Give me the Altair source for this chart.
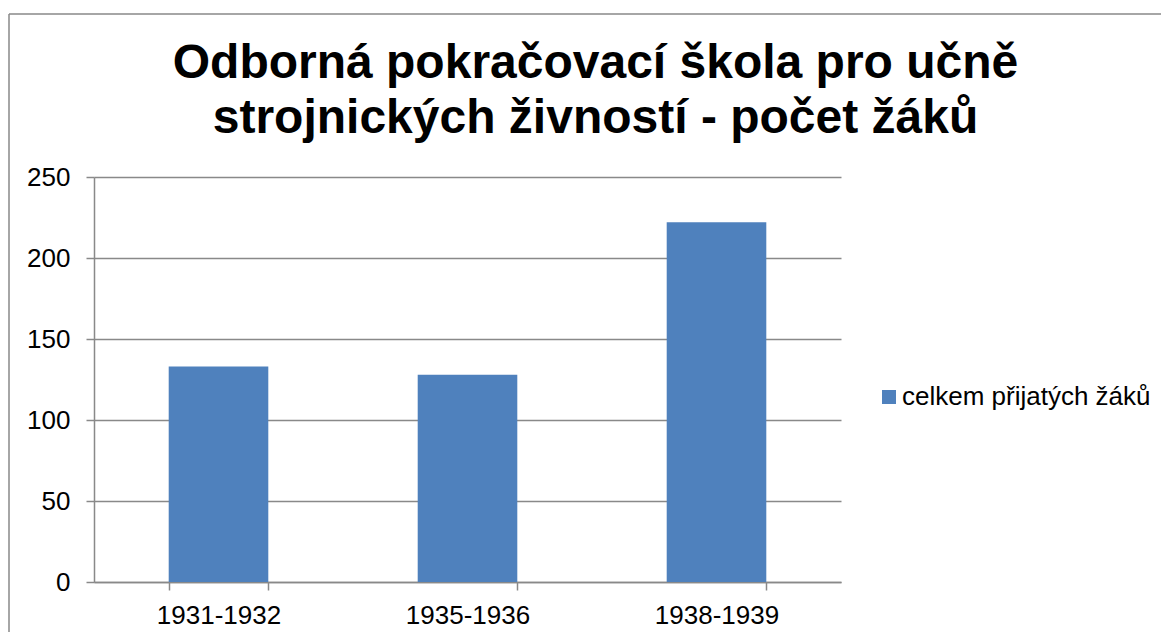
import altair as alt
import pandas as pd

# ---- data ----
years = ["1931-1932", "1935-1936", "1938-1939"]
counts = [133, 128, 222]
series_name = "celkem přijatých žáků"
title_lines = ["Odborná pokračovací škola pro učně", "strojnických živností - počet žáků"]
y_ticks = [0, 50, 100, 150, 200, 250]

df = pd.DataFrame({"rok": years, "pocet": counts, "serie": [series_name] * len(years)})

FONT = "Liberation Sans"
GRAY = "#898989"
BLUE = "#4F81BD"

bars = alt.Chart(df).mark_bar(color=BLUE).encode(
    x=alt.X(
        "rok:N",
        sort=years,
        scale=alt.Scale(paddingInner=0.6, paddingOuter=0.3),
        axis=alt.Axis(
            title=None,
            labelAngle=0,
            tickBand="extent",
            tickSize=8,
            tickColor=GRAY,
            tickWidth=1.5,
            domainColor=GRAY,
            domainWidth=1.5,
            labelFont=FONT,
            labelFontSize=26,
            labelColor="black",
            labelPadding=12,
            grid=False,
        ),
    ),
    y=alt.Y(
        "pocet:Q",
        scale=alt.Scale(domain=[0, 250], nice=False),
        axis=alt.Axis(
            title=None,
            values=y_ticks,
            tickSize=8,
            tickColor=GRAY,
            tickWidth=1.5,
            domainColor=GRAY,
            domainWidth=1.5,
            gridColor=GRAY,
            gridWidth=1.5,
            labelFont=FONT,
            labelFontSize=26,
            labelColor="black",
            labelPadding=16,
        ),
    ),
    color=alt.Color(
        "serie:N",
        scale=alt.Scale(range=[BLUE]),
        legend=alt.Legend(
            title=None,
            orient="none",
            legendX=782,
            legendY=207,
            symbolType="square",
            symbolSize=196,
            symbolStrokeWidth=0,
            symbolOpacity=1,
            labelFont=FONT,
            labelFontSize=26,
            labelColor="black",
            labelOffset=0,
            labelLimit=500,
            padding=0,
        ),
    ),
)

# outer chart frame (top and left edges; the others fall outside the picture)
frame_top = alt.Chart(pd.DataFrame({"k": [0]})).mark_rule(
    color=GRAY, strokeWidth=1.5
).encode(x=alt.value(-85), x2=alt.value(1200), y=alt.value(-163))
frame_left = alt.Chart(pd.DataFrame({"k": [0]})).mark_rule(
    color=GRAY, strokeWidth=1.5
).encode(x=alt.value(-85), y=alt.value(-163), y2=alt.value(480))

chart = alt.layer(frame_top, frame_left, bars).properties(
    width=747,
    height=405,
    autosize=alt.AutoSizeParams(type="none"),
    padding={"left": 86, "top": 169, "right": 320, "bottom": 50},
    title=alt.TitleParams(
        text=title_lines,
        font=FONT,
        fontSize=48,
        fontWeight="bold",
        color="black",
        anchor="middle",
        dx=128,
        dy=130,
        lineHeight=55,
        offset=0,
    ),
).configure_view(strokeWidth=0)

chart.save("out.html", embed_options={"renderer": "svg", "actions": False})
